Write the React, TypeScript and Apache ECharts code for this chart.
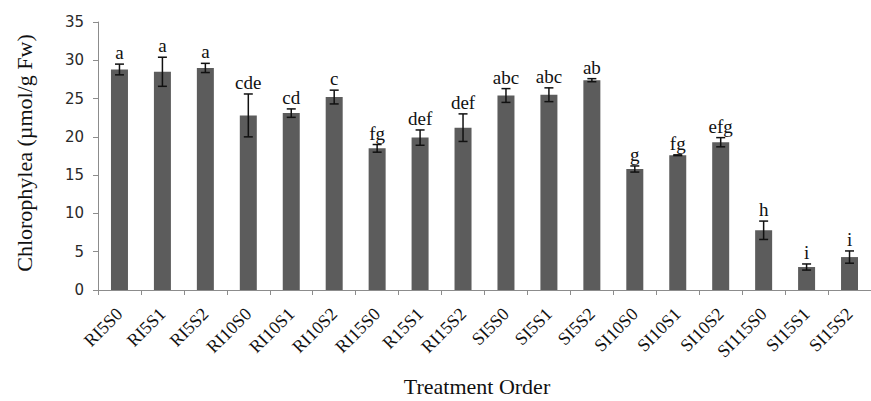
import React, { useEffect, useRef } from "react";
import * as echarts from "echarts";

const categories = [
  "RI5S0", "RI5S1", "RI5S2", "RI10S0", "RI10S1", "RI10S2", "RI15S0", "R15S1", "RI15S2",
  "SI5S0", "SI5S1", "SI5S2", "SI10S0", "SI10S1", "SI10S2", "SI115S0", "SI15S1", "SI15S2",
];
const means = [28.8, 28.5, 29.0, 22.8, 23.1, 25.2, 18.5, 19.9, 21.2, 25.4, 25.5, 27.4, 15.8, 17.6, 19.3, 7.8, 3.0, 4.3];
const errors = [0.7, 1.9, 0.6, 2.8, 0.55, 0.9, 0.5, 1.0, 1.8, 0.9, 0.9, 0.2, 0.4, 0.05, 0.6, 1.2, 0.4, 0.8];
const letters = ["a", "a", "a", "cde", "cd", "c", "fg", "def", "def", "abc", "abc", "ab", "g", "fg", "efg", "h", "i", "i"];
const yTicks = { min: 0, max: 35, interval: 5 };

const SERIF = "'Liberation Serif', 'Times New Roman', serif";

export default function App() {
  const ref = useRef<HTMLDivElement>(null);
  useEffect(() => {
    if (!ref.current) return;
    const chart = echarts.init(ref.current, undefined, { renderer: "svg" });
    const errData = means.map((m, i) => [i, m - errors[i], m + errors[i]]);
    chart.setOption({
      animation: false,
      backgroundColor: "#fff",
      grid: { left: 98, right: 0, top: 22, bottom: 111 },
      xAxis: {
        type: "category",
        data: categories,
        axisLine: { lineStyle: { color: "#8c8c8c", width: 1 } },
        axisTick: { show: true, length: 5, lineStyle: { color: "#8c8c8c" } },
        axisLabel: {
          rotate: 45,
          margin: 21,
          fontFamily: SERIF,
          fontSize: 18,
          color: "#111",
        },
      },
      yAxis: {
        type: "value",
        min: yTicks.min,
        max: yTicks.max,
        interval: yTicks.interval,
        axisLine: { show: true, lineStyle: { color: "#8c8c8c", width: 1 } },
        axisTick: { show: true, length: 5, lineStyle: { color: "#8c8c8c" } },
        splitLine: { show: false },
        axisLabel: {
          margin: 14,
          fontFamily: "'DejaVu Sans', Verdana, sans-serif",
          fontSize: 15,
          color: "#2a2a2a",
        },
      },
      graphic: [
        {
          type: "text",
          x: 24,
          y: 153,
          rotation: Math.PI / 2,
          style: {
            text: "Chlorophylea (µmol/g Fw)",
            font: `22px ${SERIF}`,
            fill: "#111",
            align: "center",
            verticalAlign: "middle",
          },
        },
        {
          type: "text",
          x: 477,
          y: 386,
          style: {
            text: "Treatment Order",
            font: `22px ${SERIF}`,
            fill: "#111",
            align: "center",
            verticalAlign: "middle",
          },
        },
      ],
      series: [
        {
          type: "bar",
          data: means,
          barWidth: 17,
          itemStyle: { color: "#5c5c5c" },
        },
        {
          type: "custom",
          data: errData,
          z: 10,
          renderItem: (params: any, api: any) => {
            const i = api.value(0);
            const lo = api.coord([i, api.value(1)]);
            const hi = api.coord([i, api.value(2)]);
            const cap = 4.5;
            const style = { stroke: "#111", lineWidth: 1.5 };
            return {
              type: "group",
              children: [
                { type: "line", shape: { x1: hi[0], y1: hi[1], x2: lo[0], y2: lo[1] }, style },
                { type: "line", shape: { x1: hi[0] - cap, y1: hi[1], x2: hi[0] + cap, y2: hi[1] }, style },
                { type: "line", shape: { x1: lo[0] - cap, y1: lo[1], x2: lo[0] + cap, y2: lo[1] }, style },
                {
                  type: "text",
                  x: hi[0],
                  y: hi[1] - 2,
                  style: {
                    text: letters[params.dataIndex],
                    font: `19px ${SERIF}`,
                    fill: "#111",
                    align: "center",
                    verticalAlign: "bottom",
                  },
                },
              ],
            };
          },
        },
      ],
    });
    return () => chart.dispose();
  }, []);
  return (
    <div
      ref={ref}
      style={{ position: "fixed", left: 0, top: 0, width: 871, height: 401 }}
    />
  );
}
